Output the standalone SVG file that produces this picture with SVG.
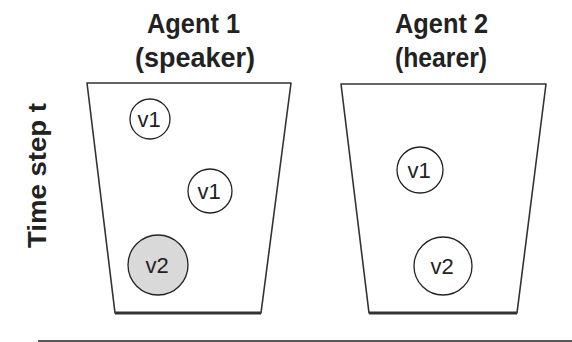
<svg xmlns="http://www.w3.org/2000/svg" width="572" height="342" viewBox="0 0 572 342">
  <style>
    .head { font-family: "Liberation Sans", Arial, sans-serif; font-size: 28px; font-weight: bold; fill: #222; text-anchor: middle; }
    .side { font-family: "Liberation Sans", Arial, sans-serif; font-size: 25px; font-weight: bold; fill: #222; text-anchor: middle; }
    .box { fill: #fff; stroke: #333; stroke-width: 1.6; stroke-linejoin: round; }
    .base { stroke: #333; stroke-width: 3.2; }
    .obj { fill: #fff; stroke: #222; stroke-width: 1.3; }
    .obj.sel { fill: #d9d9d9; }
    .lbl { font-family: "Liberation Sans", Arial, sans-serif; font-size: 22px; fill: #222; text-anchor: middle; }
  </style>
  <rect width="572" height="342" fill="#fff"/>

  <!-- column headings -->
  <g id="agent1-title">
    <text class="head" x="193.5" y="33" textLength="93" lengthAdjust="spacingAndGlyphs">Agent 1</text>
    <text class="head" x="195" y="67" textLength="120" lengthAdjust="spacingAndGlyphs">(speaker)</text>
  </g>
  <g id="agent2-title">
    <text class="head" x="441.5" y="33" textLength="93" lengthAdjust="spacingAndGlyphs">Agent 2</text>
    <text class="head" x="441" y="67" textLength="92" lengthAdjust="spacingAndGlyphs">(hearer)</text>
  </g>

  <!-- row label -->
  <text class="side" transform="translate(46 175.5) rotate(-90)" textLength="145" lengthAdjust="spacingAndGlyphs">Time step t</text>

  <!-- agent 1 context -->
  <g id="agent1">
    <polygon class="box" points="87,83 291,83 261,313 115,313"/>
    <line class="base" x1="115" y1="313" x2="261" y2="313"/>
    <g id="a1-v1a">
      <circle class="obj" cx="150" cy="119" r="20"/>
      <text class="lbl" x="149" y="127">v1</text>
    </g>
    <g id="a1-v1b">
      <circle class="obj" cx="210" cy="191" r="22"/>
      <text class="lbl" x="209" y="199">v1</text>
    </g>
    <g id="a1-v2">
      <circle class="obj sel" cx="158" cy="265" r="30"/>
      <text class="lbl" x="157" y="273">v2</text>
    </g>
  </g>

  <!-- agent 2 context -->
  <g id="agent2">
    <polygon class="box" points="341,84 546,84 517,313 369,313"/>
    <line class="base" x1="369" y1="313" x2="517" y2="313"/>
    <g id="a2-v1">
      <circle class="obj" cx="420" cy="170" r="23"/>
      <text class="lbl" x="419" y="178">v1</text>
    </g>
    <g id="a2-v2">
      <circle class="obj" cx="443" cy="266" r="29"/>
      <text class="lbl" x="442" y="274">v2</text>
    </g>
  </g>

  <!-- separator below the row -->
  <g id="connectors">
    <line x1="38" y1="341" x2="572" y2="341" stroke="#222" stroke-width="1.5"/>
  </g>
</svg>
